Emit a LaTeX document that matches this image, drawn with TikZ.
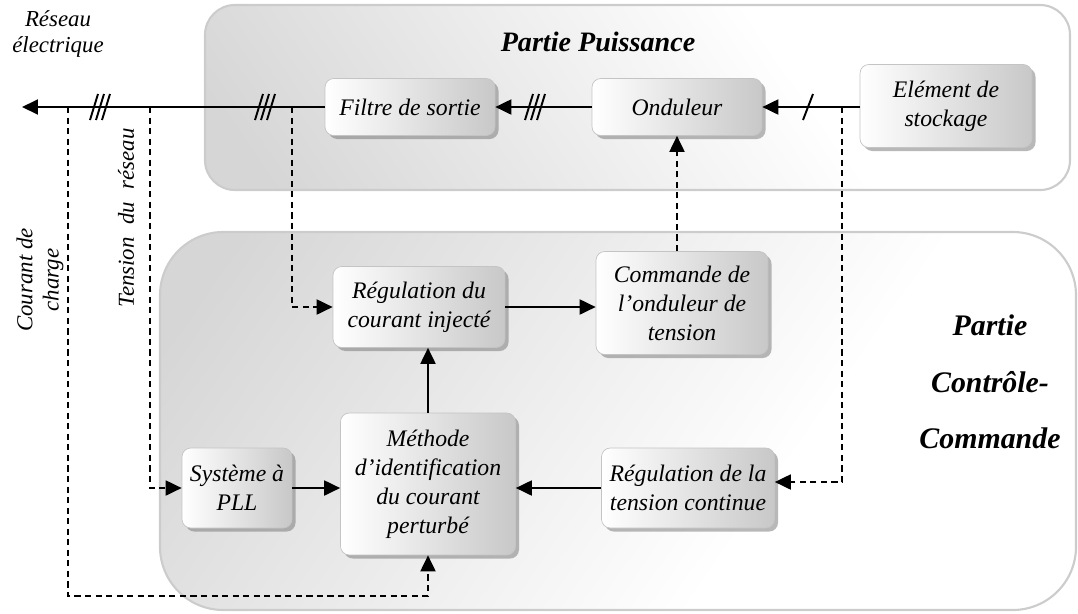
\documentclass[tikz,border=0pt]{standalone}
\usepackage{fontspec}
\setmainfont{Liberation Serif}
\usetikzlibrary{arrows.meta, positioning, shadows, calc}
\definecolor{panelline}{HTML}{CCCCCC}
\definecolor{panelgray}{HTML}{D6D6D6}
\definecolor{boxline}{HTML}{C4C4C4}
\definecolor{boxgray}{HTML}{C8C8C8}
\pgfdeclarehorizontalshading{panelshade}{100bp}{color(0bp)=(panelgray); color(20bp)=(panelgray);
  color(62bp)=(white); color(100bp)=(white)}

\begin{document}
\begin{tikzpicture}[
    x=0.02cm, y=-0.02cm,
    panel/.style={draw=panelline, line width=1.2pt, shading=panelshade},
    blk/.style={rectangle, rounded corners=5pt, draw=boxline, left color=white, right color=boxgray,
                drop shadow={shadow xshift=2pt, shadow yshift=-2pt, fill=black!55, opacity=.5},
                align=center, inner sep=2pt, font=\itshape\fontsize{13.5}{16.5}\selectfont},
    lbl/.style={align=center, font=\itshape\fontsize{13}{15}\selectfont},
    ttl/.style={align=center, font=\bfseries\itshape\fontsize{16}{19}\selectfont},
    arr/.style={-{Triangle[length=3.2mm, width=3mm]}, line width=1.1pt},
    sig/.style={arr, dash pattern=on 3.5pt off 2.5pt},
    wire/.style={line width=1.1pt}
  ]
  \useasboundingbox (0,0) rectangle (1078,613);

  % panels
  \shadedraw[panel, rounded corners=17pt, shading angle=35] (205,5) rectangle (1070,190);
  \shadedraw[panel, rounded corners=36pt, shading angle=-35] (160,232) rectangle (1076,610);
  \node[ttl] (puiss) at (598,42) {Partie Puissance};
  \node[ttl, font=\bfseries\itshape\fontsize{17}{32}\selectfont] (ctrl) at (990,382) {Partie\\Contrôle-\\Commande};

  % blocks
  \node[blk, minimum width=3.4cm, minimum height=1.14cm] (filtre) at (410,107) {Filtre de sortie};
  \node[blk, minimum width=3.4cm, minimum height=1.14cm] (ond) at (677,107) {Onduleur};
  \node[blk, minimum width=3.44cm, minimum height=1.66cm] (stock) at (946,106) {Elément de\\stockage};
  \node[blk, minimum width=3.44cm, minimum height=1.62cm] (regi) at (419,307) {Régulation du\\courant injecté};
  \node[blk, minimum width=3.44cm, minimum height=2.06cm] (cmd) at (682,303) {Commande de\\l’onduleur de\\tension};
  \node[blk, minimum width=2.2cm, minimum height=1.6cm] (pll) at (237,488) {Système à\\PLL};
  \node[blk, minimum width=3.5cm, minimum height=2.84cm] (meth) at (428,484) {Méthode\\d’identification\\du courant\\perturbé};
  \node[blk, minimum width=3.46cm, minimum height=1.6cm] (regv) at (688,488) {Régulation de la\\tension continue};

  % labels
  \node[lbl] (reseau) at (58,34) {Réseau\\électrique};
  \node[lbl, rotate=90] (courant) at (40,280) {Courant de\\charge};
  \node[lbl, rotate=90] (tension) at (126,218) {Tension\hspace{0.3em} du\hspace{0.3em} réseau};

  % power line
  \coordinate (grid) at (22,107);
  \coordinate (tapC) at (68,107);
  \coordinate (tapV) at (150,107);
  \coordinate (tapI) at (292,107);
  \coordinate (tapD) at (842,107);
  \coordinate (low) at (68,596);
  \draw[arr] (filtre.west) -- (grid);
  \draw[arr] (ond.west) -- (filtre.east);
  \draw[arr] (stock.west |- ond.east) -- (ond.east);
  \foreach \hx in {100,265,535}
    \foreach \d in {-6,0,6}
      \draw[wire] (\hx+\d-4,120) -- (\hx+\d+4,94);
  \draw[wire] (803,120) -- (813,94);

  % measures
  \draw[sig] (tapC) -- (low) -| (meth.south);
  \draw[sig] (tapV) |- (pll.west);
  \draw[sig] (tapI) |- (regi.west);
  \draw[sig] (tapD) |- ($(regv.east)+(0,-6)$);
  \draw[sig] (cmd.north -| ond.south) -- (ond.south);

  % control chain
  \draw[arr] (regi.east) -- (regi.east -| cmd.west);
  \draw[arr] (meth.north) -- (meth.north |- regi.south);
  \draw[arr] (pll.east) -- (pll.east -| meth.west);
  \draw[arr] (regv.west) -- (regv.west -| meth.east);
\end{tikzpicture}
\end{document}
